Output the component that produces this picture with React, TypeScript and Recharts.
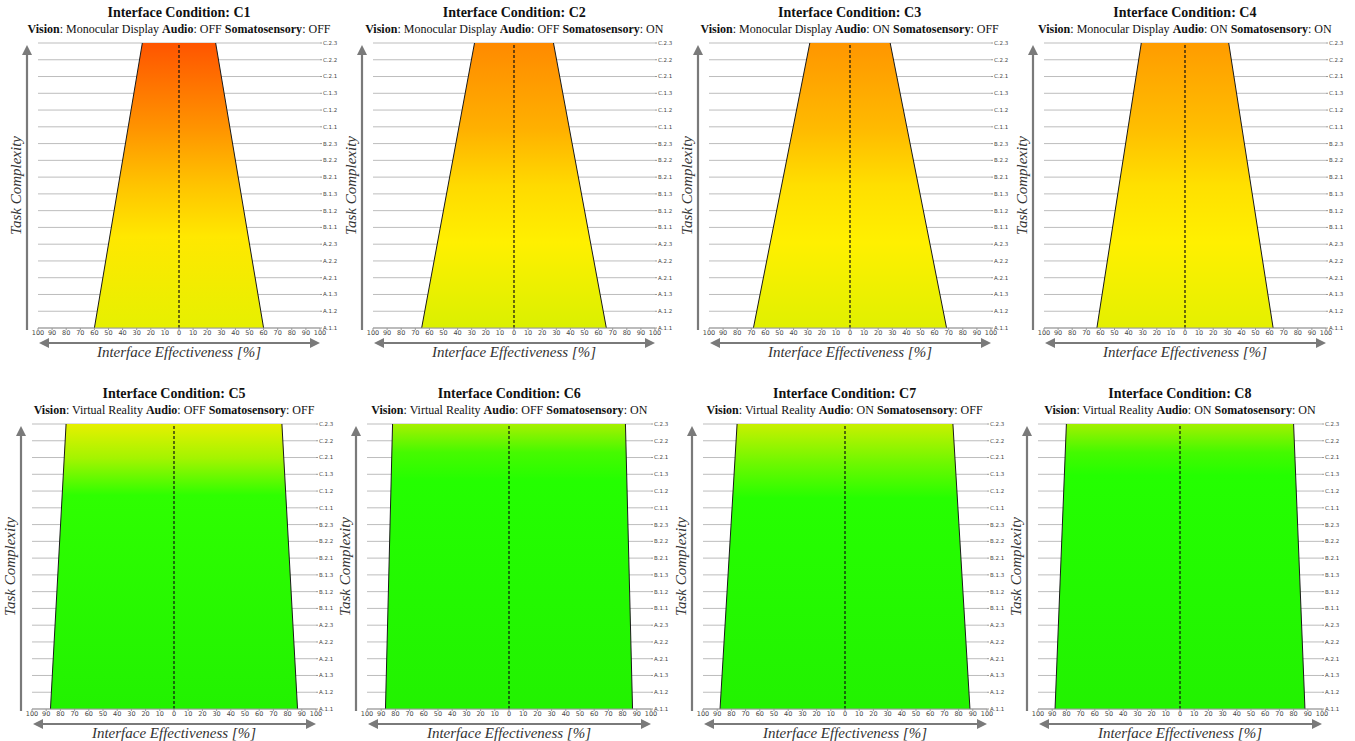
import React from 'react';
import { ComposedChart, Area, XAxis, YAxis, CartesianGrid, ReferenceLine } from 'recharts';

// Task complexity levels, listed top (hardest) to bottom (easiest)
const complexityLevels = [
  'C.2.3', 'C.2.2', 'C.2.1', 'C.1.3', 'C.1.2', 'C.1.1',
  'B.2.3', 'B.2.2', 'B.2.1', 'B.1.3', 'B.1.2', 'B.1.1',
  'A.2.3', 'A.2.2', 'A.2.1', 'A.1.3', 'A.1.2', 'A.1.1',
];
const effectivenessTicks = [-100, -90, -80, -70, -60, -50, -40, -30, -20, -10, 0, 10, 20, 30, 40, 50, 60, 70, 80, 90, 100];

const conditions = ['C1', 'C2', 'C3', 'C4', 'C5', 'C6', 'C7', 'C8'];
const visionModes = ['Monocular Display', 'Monocular Display', 'Monocular Display', 'Monocular Display', 'Virtual Reality', 'Virtual Reality', 'Virtual Reality', 'Virtual Reality'];
const audioStates = ['OFF', 'OFF', 'ON', 'ON', 'OFF', 'OFF', 'ON', 'ON'];
const somatoStates = ['OFF', 'ON', 'OFF', 'ON', 'OFF', 'ON', 'OFF', 'ON'];

// Interface effectiveness (%) at the hardest (C.2.3) and easiest (A.1.1) task
const effectivenessHardest = [26, 28, 28.5, 31, 76, 82, 76, 80];
const effectivenessEasiest = [60, 65.5, 68.5, 62.5, 87, 87, 88, 88];

// gradient colour stops (top -> bottom) per panel
const gradientStops: [number, string][][] = [
  [[0, '#FF5500'], [0.3, '#FF9400'], [0.5, '#FFC400'], [0.68, '#FFE800'], [1, '#E6F000']],
  [[0, '#FF8A00'], [0.3, '#FFB000'], [0.5, '#FFDA00'], [0.7, '#FFF000'], [1, '#DAF000']],
  [[0, '#FF9600'], [0.3, '#FFBA00'], [0.5, '#FFDF00'], [0.7, '#FFF000'], [1, '#E0F000']],
  [[0, '#FF9C00'], [0.3, '#FFBE00'], [0.5, '#FFE000'], [0.7, '#FFF000'], [1, '#E4F000']],
  [[0, '#E6F000'], [0.12, '#A4F400'], [0.25, '#2EFF00'], [1, '#22F200']],
  [[0, '#A6F000'], [0.1, '#46FA00'], [0.2, '#24FF00'], [1, '#22F200']],
  [[0, '#C8F000'], [0.14, '#6CF800'], [0.26, '#26FF00'], [1, '#22F200']],
  [[0, '#A2F000'], [0.1, '#44FA00'], [0.18, '#24FF00'], [1, '#22F200']],
];

const SERIF = '"Liberation Serif", "DejaVu Serif", serif';
const SANS = '"DejaVu Sans", sans-serif';

const PANEL_W = 345;
const PANEL_H = 381;
const PLOT_TOP = 43;
const PLOT_RIGHT = 320;

function EffArrow(props: any) {
  const vb = props.viewBox || {};
  const x1 = vb.x + 1;
  const x2 = vb.x + vb.width;
  const y = vb.y + 15;
  const c = '#7a7a7a';
  return (
    <g>
      <line x1={x1 + 8} y1={y} x2={x2 - 8} y2={y} stroke={c} strokeWidth={2.2} />
      <polygon points={`${x1},${y} ${x1 + 10},${y - 5} ${x1 + 10},${y + 5}`} fill={c} />
      <polygon points={`${x2},${y} ${x2 - 10},${y - 5} ${x2 - 10},${y + 5}`} fill={c} />
      <text x={vb.x + vb.width / 2} y={vb.y + 29} textAnchor="middle" fontFamily={SERIF} fontStyle="italic" fontSize={15} fill="#333">
        Interface Effectiveness [%]
      </text>
    </g>
  );
}

function ComplexityArrow(props: any) {
  const vb = props.viewBox || {};
  const ax = vb.x + vb.width - 11;
  const yTop = vb.y + 2;
  const yBot = vb.y + vb.height + 2;
  const c = '#7a7a7a';
  const tx = vb.x + vb.width - 22;
  const ty = vb.y + vb.height / 2;
  return (
    <g>
      <line x1={ax} y1={yBot} x2={ax} y2={yTop + 8} stroke={c} strokeWidth={2.2} />
      <polygon points={`${ax},${yTop} ${ax - 5},${yTop + 10} ${ax + 5},${yTop + 10}`} fill={c} />
      <text x={tx} y={ty} transform={`rotate(-90 ${tx} ${ty})`} textAnchor="middle" dominantBaseline="central" fontFamily={SERIF} fontStyle="italic" fontSize={15} fill="#333">
        Task Complexity
      </text>
    </g>
  );
}

function Panel({ idx }: { idx: number }) {
  const col = idx % 4;
  const row = Math.floor(idx / 4);
  const left = col * 335.3 + (row === 1 ? -4 : 0);
  const top = row * PANEL_H;
  const plotLeft = row === 0 ? 38 : 36;
  const data = [
    { level: 0, range: [-effectivenessHardest[idx], effectivenessHardest[idx]] },
    { level: complexityLevels.length - 1, range: [-effectivenessEasiest[idx], effectivenessEasiest[idx]] },
  ];
  const levelTicks = complexityLevels.map((_, i) => i);
  const plotCenter = (plotLeft + PLOT_RIGHT) / 2;
  return (
    <div style={{ position: 'absolute', left, top, width: PANEL_W, height: PANEL_H }}>
      <div
        style={{
          position: 'absolute', left: plotCenter - 220, width: 440, top: 4,
          textAlign: 'center', fontFamily: SERIF, color: '#111', whiteSpace: 'nowrap', lineHeight: '17px',
        }}
      >
        <div style={{ fontWeight: 'bold', fontSize: 14 }}>Interface Condition: {conditions[idx]}</div>
        <div style={{ fontSize: 12 }}>
          <b>Vision</b>: {visionModes[idx]} <b>Audio</b>: {audioStates[idx]} <b>Somatosensory</b>: {somatoStates[idx]}
        </div>
      </div>
      <div style={{ position: 'absolute', left: 0, top: 0 }}>
        <ComposedChart
          width={PANEL_W}
          height={PANEL_H}
          layout="vertical"
          data={data}
          margin={{ top: PLOT_TOP, right: 0, bottom: 0, left: 0 }}
          style={{ overflow: 'visible' }}
        >
          <defs>
            <linearGradient id={`grad${idx}`} x1="0" y1="0" x2="0" y2="1">
              {gradientStops[idx].map(([o, c], i) => (
                <stop key={i} offset={o} stopColor={c} />
              ))}
            </linearGradient>
          </defs>
          <CartesianGrid horizontal vertical={false} stroke="#bdbdbd" />
          <XAxis
            type="number"
            domain={[-100, 100]}
            ticks={effectivenessTicks}
            interval={0}
            tickFormatter={(v: number) => String(Math.abs(v))}
            height={PANEL_H - 328}
            stroke="#999"
            tickSize={2}
            tickMargin={0}
            tick={{ fontSize: 6.5, fontFamily: SANS, fill: '#444' }}
            label={{ content: (p: any) => <EffArrow {...p} /> }}
          />
          <YAxis
            yAxisId="left"
            orientation="left"
            type="number"
            domain={[0, complexityLevels.length - 1]}
            width={plotLeft}
            tick={false}
            tickLine={false}
            axisLine={false}
            label={{ content: (p: any) => <ComplexityArrow {...p} /> }}
          />
          <YAxis
            orientation="right"
            type="number"
            dataKey="level"
            domain={[0, complexityLevels.length - 1]}
            ticks={levelTicks}
            interval={0}
            tickFormatter={(i: number) => complexityLevels[i]}
            width={PANEL_W - PLOT_RIGHT}
            axisLine={false}
            tickSize={2}
            tickMargin={1}
            stroke="#999"
            tick={{ fontSize: 5.5, fontFamily: SANS, fill: '#444' }}
          />
          <Area
            dataKey="range"
            type="linear"
            fill={`url(#grad${idx})`}
            fillOpacity={1}
            stroke="#1a1a1a"
            strokeWidth={1}
            isAnimationActive={false}
            dot={false}
            activeDot={false}
          />
          <ReferenceLine x={0} stroke="#111" strokeDasharray="3 2" strokeWidth={1.2} />
        </ComposedChart>
      </div>
    </div>
  );
}

export default function App() {
  return (
    <div style={{ position: 'absolute', left: 0, top: 0, width: 1355, height: 741, background: '#fff', overflow: 'hidden' }}>
      {conditions.map((_, i) => (
        <Panel key={i} idx={i} />
      ))}
    </div>
  );
}
